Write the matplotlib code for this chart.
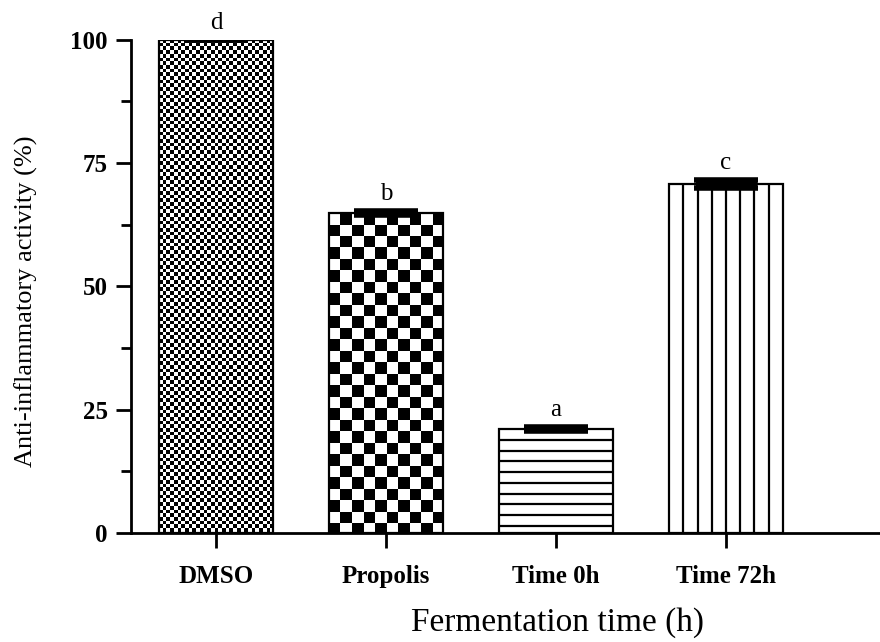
import numpy as np
import matplotlib
matplotlib.use("Agg")
import matplotlib.pyplot as plt
from matplotlib.ticker import MultipleLocator

plt.rcParams['font.family'] = ['Liberation Serif', 'DejaVu Serif']

groups = ["DMSO", "Propolis", "Time 0h", "Time 72h"]
activity = [100.0, 64.9, 21.0, 70.8]
errors = [0.0, 0.4, 0.4, 0.8]
letters = ["d", "b", "a", "c"]
fills = ["fine_check", "check", "hlines", "vlines"]


def checker_fill(ax, bar, dx, dy):
    # checkerboard image clipped to the bar shape
    x0, w, h = bar.get_x(), bar.get_width(), bar.get_height()
    nc = int(np.ceil(w / dx))
    nr = int(np.ceil(h / dy))
    board = (np.add.outer(np.arange(nr), np.arange(nc)) % 2).astype(float)
    im = ax.imshow(board, cmap="gray", interpolation="nearest", aspect="auto",
                   extent=(x0, x0 + nc * dx, h, h - nr * dy), zorder=1)
    im.set_clip_path(bar)


def stripe_fill(ax, bar, kind):
    x0, w, h = bar.get_x(), bar.get_width(), bar.get_height()
    if kind == "vlines":
        xs = np.linspace(x0, x0 + w, 9)[1:-1]
        ax.vlines(xs, 0, h, color="black", lw=1.6, zorder=2)
    else:
        ys = np.arange(h - 2.17, 0.5, -2.17)
        ax.hlines(ys, x0, x0 + w, color="black", lw=1.6, zorder=2)


fig = plt.figure(figsize=(8.8, 6.42), dpi=100)
ax = fig.add_axes([0.149, 0.170, 0.851, 0.768])

x = np.arange(len(groups))
bars = ax.bar(x, activity, width=0.67, color="white", edgecolor="black",
              linewidth=1.6, zorder=3)
for b in bars:
    b.set_facecolor("none")

for b, kind in zip(bars, fills):
    if kind == "fine_check":
        checker_fill(ax, b, 0.0218, 0.75)
    elif kind == "check":
        checker_fill(ax, b, 0.0676, 2.33)
    else:
        stripe_fill(ax, b, kind)

# thick caps + wide error line give the solid black band of the original
ax.errorbar(x, activity, yerr=errors, fmt="none", ecolor="black",
            elinewidth=44, capsize=23, capthick=4, zorder=4)

for xi, v, e, lab in zip(x, activity, errors, letters):
    ax.text(xi, v + e + 1.2, lab, ha="center", va="bottom", fontsize=18)

ax.set_xlim(-0.5, 3.906)
ax.set_ylim(0, 100)
ax.spines["top"].set_visible(False)
ax.spines["right"].set_visible(False)
ax.spines["left"].set_linewidth(2)
ax.spines["bottom"].set_linewidth(2)
ax.spines["left"].set_zorder(5)

ax.set_xticks(x)
ax.set_xticklabels(groups, fontsize=18, fontweight="bold")
ax.yaxis.set_major_locator(MultipleLocator(25))
ax.yaxis.set_minor_locator(MultipleLocator(12.5))
ax.tick_params(axis="y", which="major", length=11, width=2, labelsize=18, pad=6)
ax.tick_params(axis="y", which="minor", length=7, width=2)
ax.tick_params(axis="x", length=11, width=2, pad=12)
for t in ax.get_yticklabels():
    t.set_fontweight("bold")

ax.set_ylabel("Anti-inflammatory activity (%)", fontsize=19)
ax.yaxis.set_label_coords(-0.125, 0.47)
ax.set_xlabel("Fermentation time (h)", fontsize=24)
ax.xaxis.set_label_coords(0.569, -0.15)

fig.savefig("out.png", dpi=100)
